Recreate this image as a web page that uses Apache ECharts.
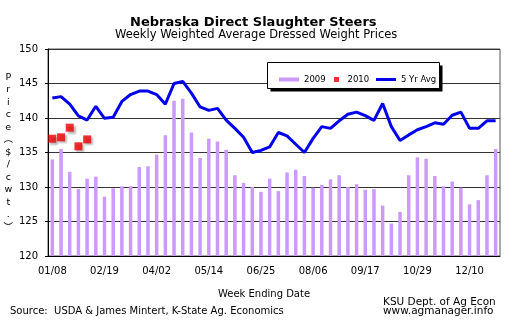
<!DOCTYPE html>
<html><head><meta charset="utf-8">
<script src="https://cdn.jsdelivr.net/npm/echarts@6/dist/echarts.min.js"></script>
<style>html,body{margin:0;padding:0;background:#fff}#c{width:523px;height:333px}</style>
</head><body><div id="c"></div>
<script>
const weeks = ['01/08','01/15','01/22','01/29','02/05','02/12','02/19','02/26','03/05','03/12','03/19','03/26',
 '04/02','04/09','04/16','04/23','04/30','05/07','05/14','05/21','05/28','06/04','06/11','06/18',
 '06/25','07/02','07/09','07/16','07/23','07/30','08/06','08/13','08/20','08/27','09/03','09/10',
 '09/17','09/24','10/01','10/08','10/15','10/22','10/29','11/05','11/12','11/19','11/26','12/03',
 '12/10','12/17','12/24','12/31'];
const yTicks = [120,125,130,135,140,145,150];
const price2009 = [134.0,135.5,132.2,129.7,131.2,131.5,128.6,129.8,130.1,130.1,132.9,133.0,
 134.7,137.5,142.5,142.8,137.9,134.2,137.0,136.6,135.4,131.7,130.6,130.0,
 129.3,131.2,129.4,132.1,132.5,131.6,129.9,130.3,131.1,131.7,130.0,130.4,
 129.6,129.7,127.3,124.7,126.4,131.7,134.3,134.1,131.6,130.1,130.8,129.9,
 127.5,128.1,131.7,135.5];
const price2010 = [137.0,137.2,138.6,135.9,136.9];
const avg5yr = [142.9,143.1,142.0,140.3,139.7,141.7,139.95,140.1,142.4,143.4,143.9,143.9,
 143.4,142.0,145.0,145.3,143.6,141.6,141.1,141.4,139.7,138.5,137.2,135.0,
 135.3,135.8,137.9,137.4,136.2,135.0,137.05,138.75,138.5,139.6,140.55,140.85,
 140.35,139.65,142.1,138.75,136.75,137.55,138.3,138.75,139.3,139.1,140.4,140.85,
 138.5,138.5,139.6,139.6];

const FF = 'DejaVu Sans, Verdana, sans-serif';
const chart = echarts.init(document.getElementById('c'), null, {renderer:'canvas'});
chart.setOption({
  animation: false,
  backgroundColor: '#fff',
  textStyle: {fontFamily: FF, color: '#000'},
  title: [
    {text: 'Nebraska Direct Slaughter Steers', left: 130, top: 16, padding: 0,
     textStyle: {fontFamily: FF, fontSize: 13, fontWeight: 'bold', color: '#000'}},
    {text: 'Weekly Weighted Average Dressed Weight Prices', left: 115, top: 29, padding: 0,
     textStyle: {fontFamily: FF, fontSize: 11.5, fontWeight: 'normal', color: '#000'}},
    {text: 'Source:  USDA & James Mintert, K-State Ag. Economics', left: 10, top: 306, padding: 0,
     textStyle: {fontFamily: FF, fontSize: 10, fontWeight: 'normal', color: '#000'}},
    {text: 'KSU Dept. of Ag Econ\nwww.agmanager.info', left: 383, top: 298, padding: 0,
     textStyle: {fontFamily: FF, fontSize: 10.5, fontWeight: 'normal', color: '#000', lineHeight: 9}}
  ],
  grid: {left: 48, right: 23, top: 49, bottom: 77, show: true, borderColor: '#555', borderWidth: 1, backgroundColor: '#fff'},
  graphic: [
    {type: 'rect', z: 50, shape: {x: 270.5, y: 65.5, width: 172, height: 26}, style: {fill: '#000'}},
    {type: 'rect', z: 51, shape: {x: 267.5, y: 62.5, width: 172, height: 26}, style: {fill: '#fff', stroke: '#000', lineWidth: 1}}
  ],
  legend: [
    {data: ['2009'], left: 274, top: 70, z: 60, itemWidth: 20, itemHeight: 4, icon: 'rect',
     textStyle: {fontFamily: FF, fontSize: 8.5, color: '#000'}},
    {data: ['2010'], left: 329, top: 70, z: 60, itemWidth: 12, itemHeight: 5, icon: 'path://M0,0L10,0L10,10L0,10Z',
     textStyle: {fontFamily: FF, fontSize: 8.5, color: '#000'}},
    {data: ['5 Yr Avg'], left: 371, top: 70, z: 60, itemWidth: 20, itemHeight: 3, icon: 'rect',
     textStyle: {fontFamily: FF, fontSize: 8.5, color: '#000'}}
  ],
  xAxis: {
    type: 'category', data: weeks, boundaryGap: true,
    name: 'Week Ending Date', nameLocation: 'middle', nameGap: 33,
    nameTextStyle: {fontFamily: FF, fontSize: 10, color: '#000', padding: [0, 20, 0, 0]},
    axisLine: {lineStyle: {color: '#000', width: 1}},
    axisTick: {interval: 5, length: 3, lineStyle: {color: '#000'}},
    axisLabel: {interval: 5, fontSize: 10, color: '#000', margin: 10, fontFamily: FF},
    splitLine: {show: false}
  },
  yAxis: {
    type: 'value', min: yTicks[0], max: yTicks[yTicks.length - 1], interval: 5,
    name: 'P\nr\ni\nc\ne\n︵\n$\n/\nc\nw\nt\n.\n︶', nameLocation: 'middle', nameGap: 38, nameRotate: 0,
    nameTextStyle: {fontFamily: FF + ', Noto Sans CJK SC', fontSize: 9.5, color: '#000', lineHeight: 12.5, align: 'center', verticalAlign: 'middle'},
    axisLine: {show: true, lineStyle: {color: '#000', width: 1}},
    axisTick: {show: true, length: 3, lineStyle: {color: '#000'}},
    axisLabel: {fontSize: 10, color: '#000', margin: 10, fontFamily: FF},
    splitLine: {show: true, lineStyle: {color: '#333', width: 1}}
  },
  series: [
    {name: '2009', type: 'bar', data: price2009, barWidth: 3.5, itemStyle: {color: '#cc99ff'}, z: 2},
    {name: '2010', type: 'scatter', data: price2010, symbol: 'rect', symbolSize: 8, z: 4,
     itemStyle: {color: '#f00000', shadowColor: 'rgba(0,0,0,0.35)', shadowBlur: 2, shadowOffsetX: 2, shadowOffsetY: 2}},
    {name: '5 Yr Avg', type: 'line', data: avg5yr, showSymbol: false, symbol: 'none', z: 3,
     lineStyle: {color: '#0000ee', width: 3}, itemStyle: {color: '#0000ee'}}
  ]
});
</script></body></html>
